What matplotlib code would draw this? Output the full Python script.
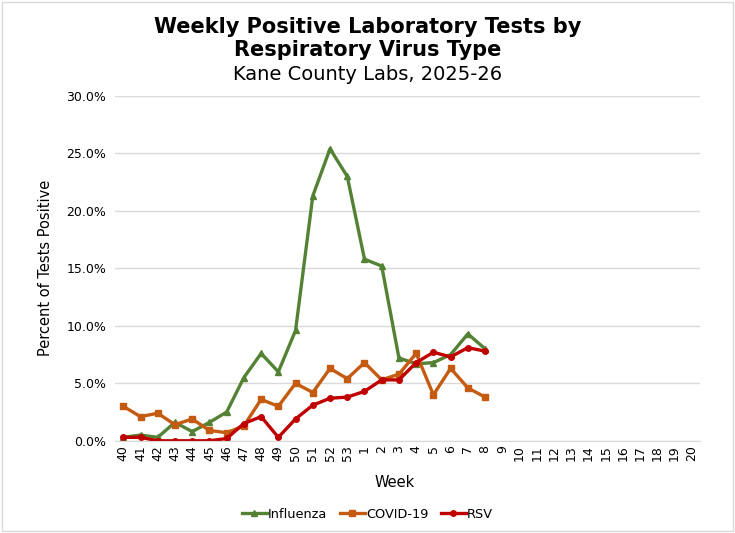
import matplotlib
matplotlib.use("Agg")
import matplotlib.pyplot as plt
from matplotlib.ticker import PercentFormatter

plt.rcParams['font.family'] = ['DejaVu Sans']

# week labels, flu season 40..53 then 1..20
weeks = [str(w) for w in range(40, 54)] + [str(w) for w in range(1, 21)]

# percent positive, reported through week 8
influenza = [0.3, 0.5, 0.3, 1.6, 0.8, 1.6, 2.5, 5.5, 7.6, 6.0, 9.6, 21.3, 25.4, 23.0,
             15.8, 15.2, 7.2, 6.7, 6.8, 7.5, 9.3, 8.0]
covid = [3.0, 2.1, 2.4, 1.4, 1.9, 0.9, 0.7, 1.3, 3.6, 3.0, 5.0, 4.2, 6.3, 5.4,
         6.8, 5.3, 5.8, 7.6, 4.0, 6.3, 4.6, 3.8]
rsv = [0.3, 0.3, 0.0, 0.0, 0.0, 0.0, 0.2, 1.5, 2.1, 0.3, 1.9, 3.1, 3.7, 3.8,
       4.3, 5.3, 5.3, 6.8, 7.7, 7.3, 8.1, 7.8]

series = [
    ('Influenza', influenza, '#548235', '^'),
    ('COVID-19', covid, '#C55A11', 's'),
    ('RSV', rsv, '#C00000', 'o'),
]

fig = plt.figure(figsize=(7.35, 5.33), dpi=100)
ax = fig.add_axes([0.156, 0.173, 0.797, 0.647])

x = list(range(len(weeks)))
for name, vals, color, mk in series:
    ax.plot(x[:len(vals)], vals, color=color, lw=2.4, marker=mk, ms=4,
            label=name, solid_joinstyle='round')

ax.set_xlim(-0.5, len(weeks) - 0.5)
ax.set_ylim(0, 30)
ax.set_yticks(range(0, 31, 5))
ax.yaxis.set_major_formatter(PercentFormatter(decimals=1))
ax.set_xticks(x)
ax.set_xticklabels(weeks, rotation=90)
ax.tick_params(axis='both', length=0, labelsize=9, colors='black')
ax.tick_params(axis='y', pad=6)
ax.tick_params(axis='x', pad=3)
ax.grid(axis='y', color='#d9d9d9', lw=1)
ax.set_axisbelow(True)
for s in ['top', 'right', 'left']:
    ax.spines[s].set_visible(False)
ax.spines['bottom'].set_color('#d9d9d9')

ax.set_ylabel('Percent of Tests Positive', fontsize=10.5, labelpad=10)

fig.text(0.5, 0.968, 'Weekly Positive Laboratory Tests by\nRespiratory Virus Type',
         ha='center', va='top', fontsize=15, fontweight='bold', linespacing=1.2)
fig.text(0.5, 0.85, 'Kane County Labs, 2025-26', ha='center', va='baseline', fontsize=14)
fig.text(0.537, 0.095, 'Week', ha='center', va='center', fontsize=10.5)

fig.legend(loc='center', bbox_to_anchor=(0.5, 0.035), ncol=3, frameon=False,
           fontsize=9.3, handlelength=1.9, handletextpad=0.1, columnspacing=1.0)

# light outer border like the chart area frame
fig.patches.append(plt.Rectangle((0.003, 0.004), 0.994, 0.992, transform=fig.transFigure,
                                 fill=False, edgecolor='#d9d9d9', lw=1))

fig.savefig('out.png', dpi=100)
